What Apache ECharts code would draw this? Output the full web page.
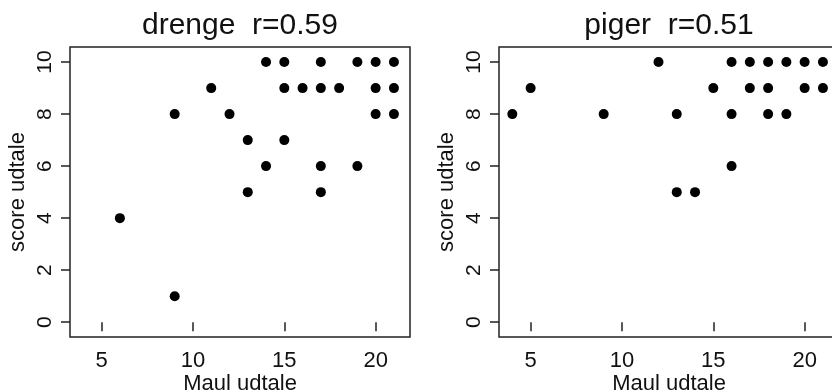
<!DOCTYPE html>
<html>
<head>
<meta charset="utf-8">
<script src="https://cdn.jsdelivr.net/npm/echarts@6/dist/echarts.min.js"></script>
<style>
html,body{margin:0;padding:0;background:#fff;}
#chart{width:832px;height:392px;}
</style>
</head>
<body>
<div id="chart"></div>
<script>
// ---- data ----
const panelTitles = ['drenge  r=0.59', 'piger  r=0.51'];
const xAxisName = 'Maul udtale';
const yAxisName = 'score udtale';
const xTicks = [5, 10, 15, 20];
const yTicks = [0, 2, 4, 6, 8, 10];
const boysX = [14,15,17,19,20,21, 11,15,16,17,18,20,21, 9,12,20,21, 13,15, 14,17,19, 13,17, 6, 9];
const boysY = [10,10,10,10,10,10, 9,9,9,9,9,9,9, 8,8,8,8, 7,7, 6,6,6, 5,5, 4, 1];
const girlsX = [12,16,17,18,19,20,21, 5,15,17,18,20,21, 4,9,13,16,18,19, 16, 13,14];
const girlsY = [10,10,10,10,10,10,10, 9,9,9,9,9,9, 8,8,8,8,8,8, 6, 5,5];

const FONT = '"Liberation Sans", Arial, sans-serif';
const INK = '#111';
const pairs = (xs, ys) => xs.map((x, i) => [x, ys[i]]);

const grids = [
  {left: 70, top: 47, width: 340, height: 290},
  {left: 499, top: 47, width: 340, height: 290}
];

function xAxis(i) {
  return {
    type: 'value', gridIndex: i, min: 3.27, max: 21.88,
    name: xAxisName, nameLocation: 'middle', nameGap: 36, nameMoveOverlap: false,
    nameTextStyle: {fontFamily: FONT, fontSize: 22, color: INK},
    axisLine: {show: false},
    splitLine: {show: false},
    axisTick: {show: true, length: 9, inside: false, customValues: xTicks, lineStyle: {color: '#222', width: 1.5}},
    axisLabel: {customValues: xTicks, fontFamily: FONT, fontSize: 22, color: INK, margin: 13}
  };
}
function yAxis(i) {
  return {
    type: 'value', gridIndex: i, min: -0.57, max: 10.58,
    name: yAxisName, nameLocation: 'middle', nameGap: 41, nameRotate: 90, nameMoveOverlap: false,
    nameTextStyle: {fontFamily: FONT, fontSize: 22, color: INK},
    axisLine: {show: false},
    splitLine: {show: false},
    axisTick: {show: true, length: 9, inside: false, customValues: yTicks, lineStyle: {color: '#222', width: 1.5}},
    axisLabel: {customValues: yTicks, rotate: 90, fontFamily: FONT, fontSize: 21, color: INK, margin: 14}
  };
}

const chart = echarts.init(document.getElementById('chart'), null, {renderer: 'canvas'});
chart.setOption({
  animation: false,
  backgroundColor: '#fff',
  grid: grids.map(g => Object.assign({show: true, borderColor: '#222', borderWidth: 1.5, backgroundColor: 'transparent', containLabel: false, outerBoundsMode: 'none'}, g)),
  xAxis: [xAxis(0), xAxis(1)],
  yAxis: [yAxis(0), yAxis(1)],
  graphic: panelTitles.map((t, i) => ({
    type: 'text',
    x: grids[i].left + grids[i].width / 2,
    y: 11,
    style: {text: t, font: '30px ' + FONT, fill: INK, align: 'center', verticalAlign: 'top'}
  })),
  series: [
    {type: 'scatter', xAxisIndex: 0, yAxisIndex: 0, data: pairs(boysX, boysY), symbol: 'circle', symbolSize: 10, itemStyle: {color: '#000', opacity: 1}},
    {type: 'scatter', xAxisIndex: 1, yAxisIndex: 1, data: pairs(girlsX, girlsY), symbol: 'circle', symbolSize: 10, itemStyle: {color: '#000', opacity: 1}}
  ]
});
</script>
</body>
</html>
